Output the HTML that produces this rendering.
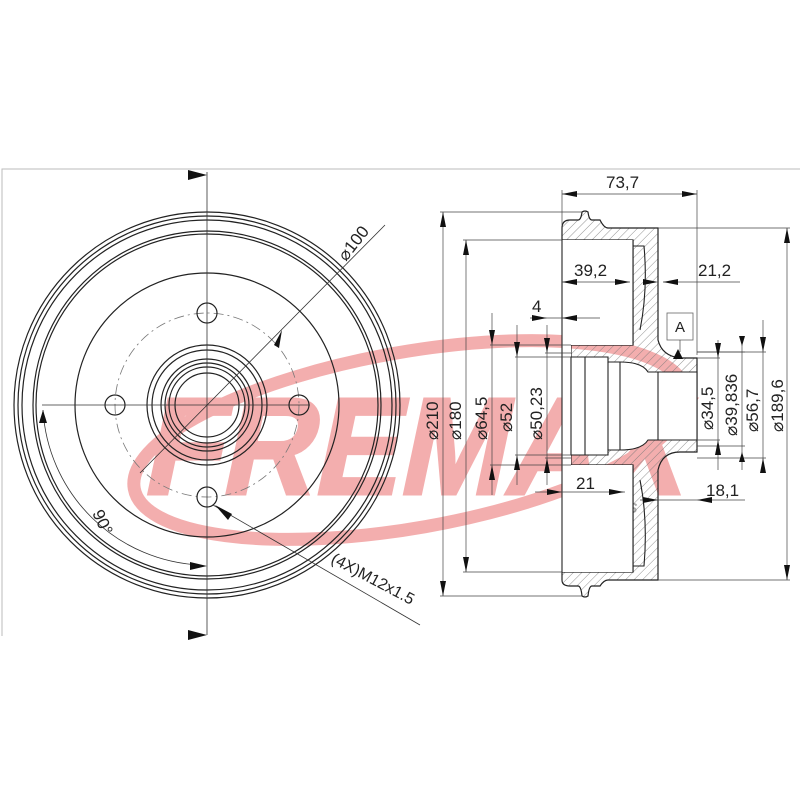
<!DOCTYPE html>
<html><head><meta charset="utf-8"><style>html,body{margin:0;padding:0;background:#fff}svg{display:block}</style></head>
<body>
<svg width="800" height="800" viewBox="0 0 800 800" xmlns="http://www.w3.org/2000/svg" font-family="Liberation Sans, sans-serif">
<defs>
<pattern id="h" width="6" height="6" patternUnits="userSpaceOnUse" patternTransform="rotate(45)"><line x1="0" y1="0" x2="0" y2="6" stroke="#777" stroke-width="0.8"/></pattern>
</defs>
<!-- watermark -->
<g opacity="0.7">
<ellipse cx="410" cy="440" rx="280" ry="88" transform="rotate(-10 410 440)" fill="none" stroke="#ef8c8c" stroke-width="13"/>
<g transform="translate(120,494) skewX(-12)">
<text x="20" y="0" font-size="138" font-weight="bold" fill="#ef8c8c" stroke="#ef8c8c" stroke-width="3" textLength="540" lengthAdjust="spacingAndGlyphs">FREMAX</text>
</g>
</g>
<text x="574" y="513" font-size="15" font-weight="bold" font-style="italic" fill="#aaa">BRAKES</text>
<!-- frame -->
<path d="M2 636 V169 H800" fill="none" stroke="#bbb" stroke-width="1"/>
<g fill="none" stroke="#222" stroke-width="1.2">
<circle cx="207" cy="405" r="193"/>
<circle cx="207" cy="405" r="189"/>
<circle cx="207" cy="405" r="185"/>
<circle cx="207" cy="405" r="174"/>
<circle cx="207" cy="405" r="171"/>
<circle cx="207" cy="405" r="132"/>
<circle cx="207" cy="405" r="92" stroke="#777" stroke-dasharray="10 4 2 4" stroke-width="0.8"/>
<circle cx="207" cy="405" r="60"/>
<circle cx="207" cy="405" r="55"/>
<circle cx="207" cy="405" r="46"/>
<circle cx="207" cy="405" r="42"/>
<circle cx="207" cy="405" r="38"/>
<circle cx="207" cy="405" r="32"/>
<circle cx="207" cy="313" r="10"/>
<circle cx="207" cy="497" r="10"/>
<circle cx="115" cy="405" r="10"/>
<circle cx="299" cy="405" r="10"/>
</g>
<g stroke="#333" stroke-width="0.8" fill="none">
<line x1="207" y1="172" x2="207" y2="635"/>
<line x1="42" y1="405" x2="310" y2="405"/>
<line x1="140" y1="473" x2="385" y2="225"/>
<line x1="213" y1="505" x2="420" y2="625"/>
<path d="M43 410 A165 165 0 0 0 200 565"/>
</g>
<g fill="#111">
<polygon points="207,175 188,170 188,180"/>
<polygon points="207,635 188,630 188,640"/>
<polygon points="207,566 190,562 190,570"/>
<polygon points="43,410 39,423 47,423"/>
<polygon points="282,330 274,345 279,348"/>
<polygon points="215,505 228,520 232,514"/>
</g>
<text x="0" y="0" font-size="17" fill="#222" transform="translate(346,262) rotate(-52)">⌀100</text>
<text x="0" y="0" font-size="17" fill="#222" transform="translate(92,513) rotate(65)">90°</text>
<text x="0" y="0" font-size="16" fill="#222" transform="translate(330,562) rotate(28)">(4X)M12x1.5</text>
<!-- right section -->
<g fill="url(#h)" stroke="#222" stroke-width="1.2">
<path d="M562 228 V240 H633 V345 H571 V465 H633 V572 H562 V580 Q562 586 570 586 H578 Q581 586 582 596 Q585 598 588 596 Q589 586 592 586 H600 Q604 580 608 580 H658 V470 Q662 452 680 452 H697 V358 H680 Q662 356 658 340 V228 H608 Q604 228 600 220 H592 Q589 220 588 212 Q585 210 582 212 Q581 220 578 220 H570 Q562 220 562 228 Z"/>
</g>
<g fill="#fff" stroke="#222" stroke-width="1.1">
<path d="M633 240 V345 H571 V465 H633 V572 H562 V240 Z" stroke="none"/>
<line x1="562" y1="240" x2="562" y2="572"/>
<path d="M571 357 H608 V362 H620 Q642 362 648 372 H697 V440 H648 Q642 450 620 450 H608 V455 H571 Z"/>
<line x1="585" y1="357" x2="585" y2="455"/>
<line x1="608" y1="362" x2="608" y2="450"/>
<line x1="620" y1="362" x2="620" y2="450"/>
<line x1="658" y1="372" x2="658" y2="440"/>
<line x1="633" y1="240" x2="633" y2="345"/>
<line x1="633" y1="465" x2="633" y2="572"/>
<path d="M633 246 H644 Q648 290 640 330" fill="none"/>
<path d="M633 566 H644 Q648 520 640 480" fill="none"/>
</g>
<!-- dimension lines -->
<g stroke="#444" stroke-width="0.7" fill="none">
<line x1="562" y1="190" x2="562" y2="225"/><line x1="697" y1="190" x2="697" y2="355"/>
<line x1="562" y1="194" x2="697" y2="194"/>
<line x1="440" y1="212" x2="582" y2="212"/><line x1="440" y1="596" x2="582" y2="596"/>
<line x1="443" y1="212" x2="443" y2="596"/>
<line x1="463" y1="240" x2="562" y2="240"/><line x1="463" y1="572" x2="562" y2="572"/>
<line x1="466" y1="240" x2="466" y2="572"/>
<line x1="562" y1="282" x2="630" y2="282"/>
<line x1="663" y1="282" x2="740" y2="282"/>
<line x1="530" y1="318" x2="600" y2="318"/>
<line x1="490" y1="345" x2="571" y2="345"/><line x1="490" y1="465" x2="571" y2="465"/>
<line x1="492" y1="313" x2="492" y2="495"/>
<line x1="515" y1="357" x2="571" y2="357"/><line x1="515" y1="455" x2="571" y2="455"/>
<line x1="517" y1="325" x2="517" y2="485"/>
<line x1="545" y1="353" x2="571" y2="353"/><line x1="545" y1="458" x2="571" y2="458"/>
<line x1="547" y1="325" x2="547" y2="485"/>
<line x1="697" y1="358" x2="720" y2="358"/><line x1="697" y1="440" x2="720" y2="440"/>
<line x1="718" y1="340" x2="718" y2="470"/>
<line x1="697" y1="352" x2="745" y2="352"/><line x1="697" y1="446" x2="745" y2="446"/>
<line x1="742" y1="340" x2="742" y2="470"/>
<line x1="697" y1="352" x2="766" y2="352"/><line x1="697" y1="458" x2="766" y2="458"/>
<line x1="763" y1="320" x2="763" y2="470"/>
<line x1="658" y1="228" x2="790" y2="228"/><line x1="658" y1="580" x2="790" y2="580"/>
<line x1="787" y1="228" x2="787" y2="580"/>
<line x1="535" y1="492" x2="625" y2="492"/>
<line x1="640" y1="500" x2="745" y2="500"/>
</g>
<g fill="#111">
<polygon points="562,194 577,191 577,197"/><polygon points="697,194 682,191 682,197"/>
<polygon points="443,212 440,227 446,227"/><polygon points="443,596 440,581 446,581"/>
<polygon points="466,240 463,255 469,255"/><polygon points="466,572 463,557 469,557"/>
<polygon points="562,282 577,279 577,285"/><polygon points="630,282 615,279 615,285"/>
<polygon points="658,282 643,279 643,285"/><polygon points="663,282 678,279 678,285"/>
<polygon points="547,318 532,315 532,321"/><polygon points="562,318 577,315 577,321"/>
<polygon points="492,345 489,330 495,330"/><polygon points="492,465 489,480 495,480"/>
<polygon points="517,357 514,342 520,342"/><polygon points="517,455 514,470 520,470"/>
<polygon points="547,353 544,338 550,338"/><polygon points="547,458 544,473 550,473"/>
<polygon points="718,358 715,343 721,343"/><polygon points="718,440 715,455 721,455"/>
<polygon points="742,346 739,336 745,336"/><polygon points="742,452 739,462 745,462"/>
<polygon points="763,352 760,337 766,337"/><polygon points="763,458 760,473 766,473"/>
<polygon points="787,228 784,243 790,243"/><polygon points="787,580 784,565 790,565"/>
<polygon points="562,492 547,489 547,495"/><polygon points="624,492 609,489 609,495"/>
<polygon points="658,500 643,497 643,503"/><polygon points="697,500 712,497 712,503"/>
<polygon points="678,349 673,359 683,359"/>
</g>
<rect x="667" y="313" width="26" height="27" fill="#fff" stroke="#666" stroke-width="0.8"/>
<line x1="680" y1="340" x2="680" y2="352" stroke="#444" stroke-width="0.7"/>
<g font-size="17" fill="#222">
<text x="606" y="188">73,7</text>
<text x="574" y="276">39,2</text>
<text x="698" y="276">21,2</text>
<text x="532" y="312">4</text>
<text x="680" y="332" font-size="15" text-anchor="middle">A</text>
<text x="576" y="489">21</text>
<text x="706" y="496">18,1</text>
<g transform="rotate(-90)">
<text x="-440" y="438">⌀210</text>
<text x="-440" y="461">⌀180</text>
<text x="-440" y="487">⌀64,5</text>
<text x="-432" y="512">⌀52</text>
<text x="-440" y="542">⌀50,23</text>
<text x="-430" y="713">⌀34,5</text>
<text x="-436" y="737">⌀39,836</text>
<text x="-432" y="758">⌀56,7</text>
<text x="-432" y="783">⌀189,6</text>
</g>
</g>
</svg>
</body></html>
